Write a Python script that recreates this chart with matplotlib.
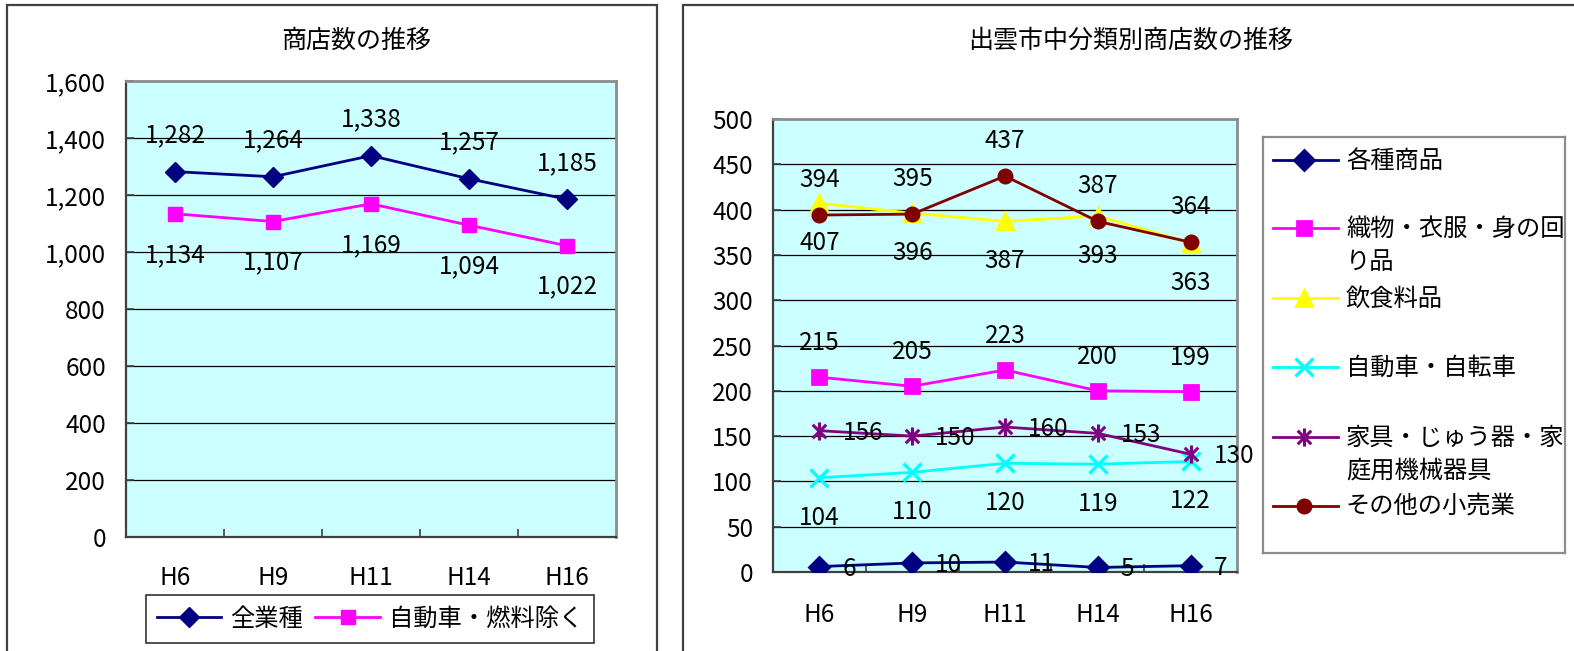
import matplotlib
matplotlib.use("Agg")
import matplotlib.pyplot as plt
from matplotlib.patches import Rectangle
from matplotlib.path import Path
from matplotlib.ticker import FixedLocator, FuncFormatter

plt.rcParams['font.family'] = ['Noto Sans CJK JP', 'DejaVu Sans']

# data
years = ["H6", "H9", "H11", "H14", "H16"]

all_industries = [1282, 1264, 1338, 1257, 1185]
excl_auto_fuel = [1134, 1107, 1169, 1094, 1022]
left_names = ["全業種", "自動車・燃料除く"]

general_goods = [6, 10, 11, 5, 7]
textiles = [215, 205, 223, 200, 199]
food = [407, 396, 387, 393, 363]
auto_bike = [104, 110, 120, 119, 122]
furniture = [156, 150, 160, 153, 130]
other_retail = [394, 395, 437, 387, 364]
right_names = [
    "各種商品",
    "織物・衣服・身の回\nり品",
    "飲食料品",
    "自動車・自転車",
    "家具・じゅう器・家\n庭用機械器具",
    "その他の小売業",
]

W, H = 1574, 651
BG = "#CCFFFF"
NUM = 17.5


def fx(px):
    return px / W


def fy(py):
    return 1 - py / H


def box(x0, y0, x1, y1):
    return [fx(x0), fy(y1), (x1 - x0) / W, (y1 - y0) / H]


asterisk = Path(
    [(0, -1), (0, 1), (-0.75, -0.75), (0.75, 0.75), (-0.75, 0.75), (0.75, -0.75)],
    [Path.MOVETO, Path.LINETO, Path.MOVETO, Path.LINETO, Path.MOVETO, Path.LINETO],
)


def style_axes(ax, ymax, step, xpad):
    n = len(years)
    ax.set_facecolor(BG)
    ax.set_xlim(-0.5, n - 0.5)
    ax.set_ylim(0, ymax)
    ax.set_xticks(range(n))
    ax.set_xticklabels(years)
    ax.xaxis.set_minor_locator(FixedLocator([i + 0.5 for i in range(n - 1)]))
    ax.yaxis.set_major_locator(FixedLocator(list(range(0, ymax + 1, step))))
    ax.yaxis.set_major_formatter(FuncFormatter(lambda v, p: f"{int(v):,}"))
    ax.tick_params(axis="x", which="major", length=0, pad=xpad, labelsize=NUM)
    ax.tick_params(axis="x", which="minor", direction="in", length=5.5,
                   width=1.2, color="#404040")
    ax.tick_params(axis="y", direction="in", length=5.5, width=1.2,
                   color="#404040", pad=14.4, labelsize=NUM)
    ax.yaxis.grid(True, color="black", lw=0.9)
    ax.set_axisbelow(True)
    for s in ("left", "bottom"):
        ax.spines[s].set_color("#404040")
        ax.spines[s].set_linewidth(1.6)
    for s in ("top", "right"):
        ax.spines[s].set_color("#8c8c8c")
        ax.spines[s].set_linewidth(2)


def labels(ax, values, dx, dy, ha="center"):
    for i, v in enumerate(values):
        ax.annotate(f"{v:,}", (i, v), xytext=(dx, dy), textcoords="offset pixels",
                    ha=ha, va="center", fontsize=NUM, zorder=5)


fig = plt.figure(figsize=(W / 100, H / 100), dpi=100)

# panel frames
for x0, x1 in ((7, 657), (683, 1590)):
    fig.add_artist(Rectangle((fx(x0), fy(670)), (x1 - x0) / W, (670 - 5) / H,
                             transform=fig.transFigure, fill=False,
                             edgecolor="#404040", lw=1.6))

# left chart
ax1 = fig.add_axes(box(126, 81, 616, 537))
style_axes(ax1, 1600, 200, 20)
x = range(len(years))
l1, = ax1.plot(x, all_industries, color="#000080", lw=2, marker="D", ms=10.5,
               label=left_names[0], zorder=3)
l2, = ax1.plot(x, excl_auto_fuel, color="#FF00FF", lw=2, marker="s", ms=10,
               label=left_names[1], zorder=3)
labels(ax1, all_industries, 0, 36)
labels(ax1, excl_auto_fuel, 0, -41)
fig.text(fx(356), fy(41), "商店数の推移", ha="center", va="center", fontsize=18)
leg = fig.legend(handles=[l1, l2], loc="center", bbox_to_anchor=(fx(370), fy(619)),
                 ncol=2, fontsize=17.5, frameon=True, fancybox=False,
                 edgecolor="black", handlelength=2.65, handletextpad=0.37,
                 columnspacing=0.5, borderpad=0.45)
leg.get_frame().set_linewidth(1.2)

# right chart
ax2 = fig.add_axes(box(773, 119, 1237, 572))
style_axes(ax2, 500, 50, 21.6)
series = [
    (general_goods, "#000080", "D", 10, 2),
    (textiles, "#FF00FF", "s", 9.5, 2),
    (food, "#FFFF00", "^", 11, 2),
    (auto_bike, "#00FFFF", "x", 12.5, 2.4),
    (furniture, "#800080", asterisk, 13, 2.2),
    (other_retail, "#800000", "o", 9.5, 2),
]
handles = []
for vals, col, mk, ms, mew in series:
    ln, = ax2.plot(x, vals, color=col, lw=2, marker=mk, ms=ms, mew=mew,
                   mfc=col if mk not in ("x", asterisk) else "none",
                   mec=col, zorder=3)
    handles.append(ln)
labels(ax2, general_goods, 23, -2, ha="left")
labels(ax2, textiles, 0, 34)
labels(ax2, food, 0, -40)
labels(ax2, auto_bike, 0, -40)
labels(ax2, furniture, 23, -2, ha="left")
labels(ax2, other_retail, 0, 35)
fig.text(fx(1131), fy(41), "出雲市中分類別商店数の推移", ha="center", va="center",
         fontsize=18)

# right legend, drawn by hand so two-line names hang from the first line
lx0, ly0, lx1, ly1 = 1263, 137, 1565, 553
lax = fig.add_axes(box(lx0, ly0, lx1, ly1))
lax.set_xlim(0, lx1 - lx0)
lax.set_ylim(ly1 - ly0, 0)
lax.set_xticks([])
lax.set_yticks([])
for s in lax.spines.values():
    s.set_color("#8c8c8c")
    s.set_linewidth(1.6)
entry_y = [160, 228, 298, 367, 437, 506]
for (vals, col, mk, ms, mew), name, ey in zip(series, right_names, entry_y):
    yy = ey - ly0
    lax.plot([10, 41, 75], [yy, yy, yy], color=col, lw=2, marker=mk, ms=ms,
             mew=mew, markevery=[1],
             mfc=col if mk not in ("x", asterisk) else "none", mec=col)
    lax.text(83, yy - 12, name, ha="left", va="top", fontsize=17.5,
             linespacing=1.35)

fig.savefig("out.png", dpi=100)
